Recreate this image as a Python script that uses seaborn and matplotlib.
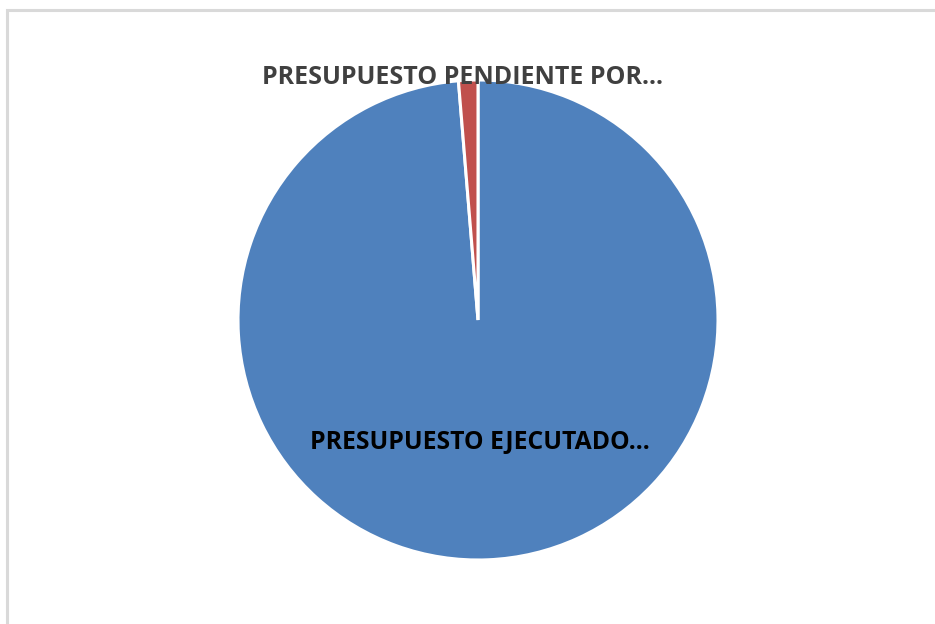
import matplotlib
matplotlib.use("Agg")
import matplotlib.pyplot as plt
import seaborn as sns
from matplotlib.patches import Rectangle

# datos del grafico (porcentaje del presupuesto)
categorias = ["PRESUPUESTO EJECUTADO...", "PRESUPUESTO PENDIENTE POR..."]
valores = [98.7, 1.3]
colores = ["#4F81BD", "#C0504D"]
color_texto = ["#000000", "#404040"]

sns.set_theme(style="white")
plt.rcParams['font.family'] = ['Open Sans', 'DejaVu Sans']

fig = plt.figure(figsize=(9.35, 6.24), dpi=100)
fig.patch.set_facecolor("white")

# marco gris del area del grafico
fig.patches.append(Rectangle((7 / 935, -0.1), 1.2, 1 - 10 / 624 + 0.1,
                             transform=fig.transFigure, fill=False,
                             edgecolor="#D9D9D9", linewidth=2.2))

ax = fig.add_axes([238 / 935, 64 / 624, 480 / 935, 480 / 624])
ax.pie(valores, colors=colores, startangle=90, counterclock=False,
       wedgeprops=dict(edgecolor="white", linewidth=2.2))
ax.set_xlim(-1, 1)
ax.set_ylim(-1, 1)
ax.set_aspect("equal")
ax.axis("off")

# etiquetas de datos
ax.text(0.008, -0.51, categorias[0], ha="center", va="center",
        fontsize=17.8, fontweight="bold", color=color_texto[0])
ax.text(-0.0625, 1.012, categorias[1], ha="center", va="center",
        fontsize=18, fontweight="bold", color=color_texto[1], clip_on=False)

fig.savefig("out.png", dpi=100, facecolor="white")
